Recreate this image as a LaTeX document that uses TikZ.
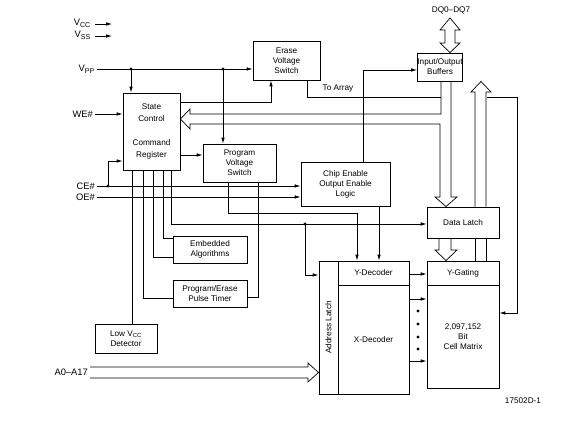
\documentclass[tikz,border=0pt]{standalone}
\usepackage{fontspec}
\setmainfont{Liberation Sans}
\usetikzlibrary{arrows.meta}

\begin{document}
\begin{tikzpicture}[x=0.3mm, y=-0.3mm, line width=0.6pt,
    blk/.style={draw, line width=0.8pt, fill=white, inner sep=0pt, align=center,
      font=\fontsize{7}{8.5}\selectfont},
    lbl/.style={font=\fontsize{7}{8.5}\selectfont, inner sep=1.5pt},
    pin/.style={font=\fontsize{8}{9}\selectfont, inner sep=1.5pt, anchor=east},
    arr/.style={-{Latex[length=5pt,width=3pt]}},
    bus/.style={line width=0.6pt, line join=miter}]
  \useasboundingbox (0,0) rectangle (588,425);

  % blocks
  \node[blk, minimum width=67*0.3mm, minimum height=39*0.3mm] (ev) at (286.5,60.5) {Erase\\Voltage\\Switch};
  \node[blk, minimum width=57*0.3mm, minimum height=77*0.3mm,
        font=\fontsize{7}{10}\selectfont] (sc) at (151.5,131.5) {State\\Control\\[11pt]Command\\Register};
  \node[blk, minimum width=73*0.3mm, minimum height=38*0.3mm] (pvs) at (239.5,163) {Program\\Voltage\\Switch};
  \node[blk, minimum width=89*0.3mm, minimum height=44*0.3mm] (ceoe) at (345.5,184) {Chip Enable\\Output Enable\\Logic};
  \node[blk, minimum width=44*0.3mm, minimum height=28*0.3mm] (io) at (440,67) {Input/Output\\Buffers};
  \node[blk, minimum width=72*0.3mm, minimum height=31*0.3mm] (dl) at (463,222.5) {Data Latch};
  \node[blk, minimum width=72*0.3mm, minimum height=24*0.3mm] (yg) at (463,273) {Y-Gating};
  \node[blk, minimum width=72*0.3mm, minimum height=103*0.3mm] (cm) at (463,336.5) {2,097,152\\Bit\\Cell Matrix};
  \node[blk, minimum width=19*0.3mm, minimum height=133*0.3mm] (al) at (328.5,327.5) {};
  \node[lbl, rotate=90] at (al.center) {Address Latch};
  \node[blk, minimum width=71*0.3mm, minimum height=24*0.3mm] (yd) at (373.5,273) {Y-Decoder};
  \node[blk, minimum width=71*0.3mm, minimum height=109*0.3mm] (xd) at (373.5,339.5) {X-Decoder};
  \node[blk, minimum width=74*0.3mm, minimum height=27*0.3mm] (ea) at (210,249.5) {Embedded\\Algorithms};
  \node[blk, minimum width=74*0.3mm, minimum height=27*0.3mm] (pet) at (210,293.5) {Program/Erase\\Pulse Timer};
  \node[blk, minimum width=62*0.3mm, minimum height=29*0.3mm] (lvd) at (126,338.5) {Low V\textsubscript{CC}\\Detector};

  % pins
  \node[pin] (vcc) at (93,23) {V\textsubscript{CC}};
  \node[pin] (vss) at (93,35) {V\textsubscript{SS}};
  \node[pin] (vpp) at (97,69) {V\textsubscript{PP}};
  \node[pin] (we) at (95,114) {WE\#};
  \node[pin] (ce) at (97,186) {CE\#};
  \node[pin] (oe) at (97,197) {OE\#};
  \node[pin] (addr) at (90,372.5) {A0--A17};
  \node[lbl] (dq) at (451,10) {DQ0--DQ7};
  \node[lbl] (toarr) at (338,89) {To Array};
  \node[lbl] (fig) at (523,401) {17502D-1};

  \draw[arr] (vcc.east) ++(2,1) -- ++(17,0);
  \draw[arr] (vss.east) ++(2,1) -- ++(17,0);

  % Vpp distribution
  \draw[arr] (vpp.east) -- (ev.west |- vpp.east);
  \fill (131,69) circle (1.6) (223,69) circle (1.6);
  \draw[arr] (131,69) -- (131,0 |- sc.north);
  \draw[arr] (223,69) -- (223,0 |- pvs.north);

  % control inputs
  \draw[arr] (we.east) -- (sc.west |- we.east);
  \draw[arr] (ce.east) -- (ceoe.west |- ce.east);
  \draw[arr] (oe.east) -- (ceoe.west |- oe.east);
  \fill (108,186) circle (1.6);
  \draw[arr] (108,186) -- (108,161) -- (sc.west |- 0,161);

  % state control outputs
  \draw[arr] (sc.east |- 0,102) -- (271,102) -- (271,0 |- ev.south);
  \draw[arr] (sc.east |- 0,155) -- (pvs.west |- 0,155);
  \draw[arr] (171,0 |- sc.south) -- (171,224) -- (dl.west |- 0,224);
  \fill (305,224) circle (1.6);
  \draw[arr] (305,224) -- (305,275) -- (al.west |- 0,275);
  \draw (163,0 |- sc.south) -- (163,238) -- (ea.west |- 0,238);
  \draw (153,0 |- sc.south) -- (153,257) -- (ea.west |- 0,257);
  \draw (143,0 |- sc.south) -- (143,298) -- (pet.west |- 0,298);
  \draw (132,0 |- sc.south) -- (132,0 |- lvd.north);

  % program voltage switch
  \draw[arr] (228,0 |- pvs.south) -- (228,213) -- (357,213) -- (357,0 |- yd.north);
  \draw (258,0 |- pvs.south) -- (258,297) -- (pet.east |- 0,297);

  % chip enable logic
  \draw[arr] (363,0 |- ceoe.north) -- (363,70) -- (io.west |- 0,70);
  \draw[arr] (379,0 |- ceoe.south) -- (379,0 |- yd.north);

  % erase switch to array
  \draw (307,0 |- ev.south) -- (307,97) -- (441,97);
  \draw[arr] (487,97) -- (517,97) -- (517,313) -- (cm.east |- 0,313);

  % decoders to array
  \draw[arr] (yd.east |- 0,274) -- (yg.west |- 0,274);
  \draw[arr] (xd.east |- 0,299) -- (cm.west |- 0,299);
  \draw[arr] (xd.east |- 0,361) -- (cm.west |- 0,361);
  \foreach \y in {311,324,337,349}
    \fill (418,\y) circle (1.6);

  % buses
  \draw[bus] (450,0 |- io.north) -- (440,43) -- (445,43) -- (445,30) -- (440,30) -- (450,18)
    -- (460,30) -- (455,30) -- (455,43) -- (460,43) -- cycle;
  \draw[bus] (441,0 |- io.south) -- (441,114) -- (190,114) -- (190,109) -- (sc.east |- 0,119)
    -- (190,129) -- (190,124) -- (440,124) -- (440,197) -- (435,197) -- (446,0 |- dl.north)
    -- (457,197) -- (451,197) -- (451,0 |- io.south);
  \draw[bus] (475,0 |- dl.north) -- (475,92) -- (471,92) -- (481,0 |- io.south) -- (491,92)
    -- (486,92) -- (486,0 |- dl.north);
  \draw[bus] (475,0 |- yg.north) -- (475,0 |- dl.south);
  \draw[bus] (486,0 |- yg.north) -- (486,0 |- dl.south);
  \draw[bus] (439,0 |- dl.south) -- (439,250) -- (435,250) -- (446,0 |- yg.north) -- (457,250)
    -- (451,250) -- (451,0 |- dl.south);
  \draw[bus] (90,367) -- (308,367) -- (308,363) -- (al.west |- 0,372.5) -- (308,382)
    -- (308,378) -- (90,378);
\end{tikzpicture}
\end{document}
